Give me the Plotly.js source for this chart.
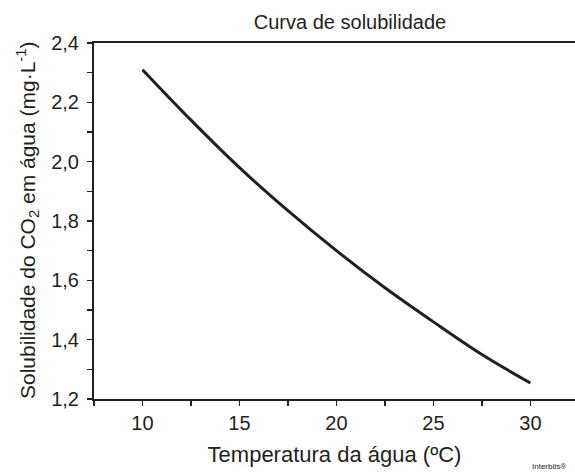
<!DOCTYPE html>
<html>
<head>
<meta charset="utf-8">
<script src="https://cdn.plot.ly/plotly-3.0.1.min.js"></script>
<style>html,body{margin:0;padding:0;background:#fff}#chart{width:575px;height:472px}</style>
</head>
<body>
<div id="chart"></div>
<script>
const temperature = [10, 12.5, 15, 17.5, 20, 22.5, 25, 27.5, 30];
const solubility = [2.31, 2.14, 1.98, 1.835, 1.70, 1.575, 1.46, 1.35, 1.254];
const xTickVals = [7.5, 10, 12.5, 15, 17.5, 20, 22.5, 25, 27.5, 30];
const xTickText = ['', '10', '', '15', '', '20', '', '25', '', '30'];
const yTickVals = [1.2, 1.3, 1.4, 1.5, 1.6, 1.7, 1.8, 1.9, 2.0, 2.1, 2.2, 2.3, 2.4];
const yTickText = ['1,2', '', '1,4', '', '1,6', '', '1,8', '', '2,0', '', '2,2', '', '2,4'];

const font = 'Liberation Sans, Arial, sans-serif';
const ink = '#231f20';

Plotly.newPlot('chart', [{
  x: temperature,
  y: solubility,
  mode: 'lines',
  line: {color: ink, width: 3, shape: 'spline'},
  hoverinfo: 'none'
}], {
  width: 575, height: 472,
  margin: {l: 94, r: 0, t: 43, b: 73},
  paper_bgcolor: '#fff', plot_bgcolor: '#fff',
  showlegend: false,
  font: {family: font, color: ink},
  title: {text: 'Curva de solubilidade', x: 306/575, xref: 'paper', xanchor: 'center',
          y: 1 - 22/472, yref: 'container', yanchor: 'middle',
          font: {family: font, size: 20, color: ink}},
  xaxis: {
    range: [7.5, 32.3], tickmode: 'array', tickvals: xTickVals, ticktext: xTickText,
    ticks: 'outside', ticklen: 5, tickwidth: 1.5, tickcolor: ink,
    showline: true, linecolor: ink, linewidth: 2, mirror: true,
    showgrid: false, zeroline: false,
    tickfont: {family: font, size: 20, color: ink},
    title: {text: 'Temperatura da água (ºC)', font: {family: font, size: 22, color: ink}, standoff: 14}
  },
  yaxis: {
    range: [1.2, 2.4], tickmode: 'array', tickvals: yTickVals, ticktext: yTickText,
    ticks: 'outside', ticklen: 5, tickwidth: 1.5, tickcolor: ink,
    ticklabelstandoff: 4,
    showline: true, linecolor: ink, linewidth: 2, mirror: false,
    showgrid: false, zeroline: false,
    tickfont: {family: font, size: 20, color: ink}
  },
  annotations: [{
    text: 'Solubilidade do CO<sub>2</sub> em água (mg·L<sup>-1</sup>)',
    xref: 'paper', yref: 'paper', x: (27 - 94)/481, y: 0.5,
    xanchor: 'center', yanchor: 'middle', textangle: -90, showarrow: false,
    font: {family: font, size: 21, color: ink}
  }, {
    text: 'Interbits®', xref: 'paper', yref: 'paper', x: (530 - 94)/481, y: -(466 - 399)/356,
    xanchor: 'left', yanchor: 'middle', showarrow: false,
    font: {family: font, size: 8, color: ink}
  }]
}, {staticPlot: true, displayModeBar: false});
</script>
</body>
</html>
